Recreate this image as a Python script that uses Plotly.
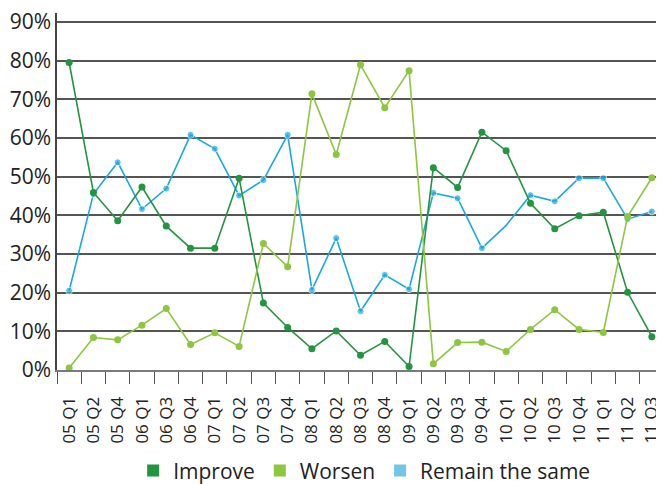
import plotly.graph_objects as go

categories = ["05 Q1", "05 Q2", "05 Q4", "06 Q1", "06 Q3", "06 Q4", "07 Q1", "07 Q2",
              "07 Q3", "07 Q4", "08 Q1", "08 Q2", "08 Q3", "08 Q4", "09 Q1", "09 Q2",
              "09 Q3", "09 Q4", "10 Q1", "10 Q2", "10 Q3", "10 Q4", "11 Q1", "11 Q2", "11 Q3"]

improve = [79.5, 45.9, 38.6, 47.3, 37.2, 31.5, 31.5, 49.6, 17.3, 11.0, 5.5, 10.1, 3.8,
           7.4, 0.9, 52.3, 47.2, 61.5, 56.7, 43.1, 36.5, 39.9, 40.8, 20.1, 8.6]
worsen = [0.5, 8.4, 7.8, 11.6, 15.9, 6.6, 9.6, 6.1, 32.7, 26.7, 71.4, 55.7, 78.9,
          67.8, 77.4, 1.6, 7.1, 7.2, 4.8, 10.5, 15.6, 10.5, 9.7, 39.7, 49.7]
remain = [20.5, 45.5, 53.7, 41.6, 46.9, 60.8, 57.2, 45.1, 49.1, 60.8, 20.7, 34.1, 15.2,
          24.6, 20.9, 45.8, 44.4, 31.5, 37.4, 45.2, 43.6, 49.6, 49.6, 39.0, 41.0]

series_names = ["Improve", "Worsen", "Remain the same"]
line_colors = {"Improve": "#23943f", "Worsen": "#8dc63f", "Remain the same": "#1ba8e0"}
legend_colors = {"Improve": "#23943f", "Worsen": "#8dc63f", "Remain the same": "#72c7e6"}

y_ticks = [0, 10, 20, 30, 40, 50, 60, 70, 80, 90]

fig = go.Figure()

data = {"Improve": improve, "Worsen": worsen, "Remain the same": remain}

# blue has no marker drawn at 10 Q1 in the reference
remain_sizes = [0 if c == "10 Q1" else 7 for c in categories]

for name in ["Remain the same", "Improve", "Worsen"]:
    sizes = remain_sizes if name == "Remain the same" else 7
    fig.add_trace(go.Scatter(
        x=categories, y=data[name], mode="lines+markers", name=name,
        line=dict(color=line_colors[name], width=1.6),
        marker=dict(color=line_colors[name], size=sizes),
        showlegend=False, cliponaxis=False,
    ))

for name in series_names:
    fig.add_trace(go.Scatter(
        x=[None], y=[None], mode="markers", name=name,
        marker=dict(color=legend_colors[name], size=12, symbol="square"),
        showlegend=True,
    ))

# page body has an 8px default margin: size the figure so it fits the 664x484 window
fig.update_layout(
    width=656, height=476,
    margin=dict(l=49, r=0, t=5, b=114, autoexpand=False),
    paper_bgcolor="white", plot_bgcolor="white",
    font=dict(family="Open Sans", color="#222222"),
    showlegend=True,
    legend=dict(orientation="h", x=0.506, xanchor="center", y=-0.225, yanchor="top",
                font=dict(size=21, color="#222222"), itemsizing="trace",
                traceorder="normal"),
)

fig.update_xaxes(
    type="category", categoryorder="array", categoryarray=categories,
    range=[-0.5, len(categories) - 0.5],
    tickangle=-90, tickfont=dict(size=17, color="#222222"),
    ticks="outside", ticklen=12, tickwidth=1.2, tickcolor="#555555",
    tickson="boundaries", ticklabelstandoff=18, ticklabeloverflow="allow",
    automargin=False,
    showline=True, linecolor="#7a7a7a", linewidth=2,
    showgrid=False, zeroline=False,
)

fig.update_yaxes(
    range=[0, 92.3], tickvals=y_ticks, ticktext=[f"{v}%" for v in y_ticks],
    tickfont=dict(size=21, color="#222222"), ticklabeloverflow="allow",
    automargin=False,
    showline=True, linecolor="#444444", linewidth=1.5,
    showgrid=True, gridcolor="#555555", gridwidth=1.5,
    zeroline=False, ticks="",
)

fig.write_html("out.html")
